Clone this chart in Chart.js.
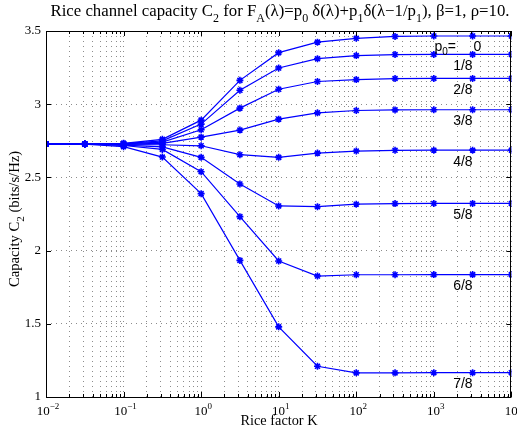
<!DOCTYPE html>
<html>
<head>
<meta charset="utf-8">
<title>Rice channel capacity</title>
<script src="https://cdn.jsdelivr.net/npm/chart.js@4.4.1/dist/chart.umd.min.js"></script>
<style>
    html, body { margin: 0; padding: 0; background: #fff; }
    canvas { display: block; }
</style>
</head>
<body>
<canvas id="chart" width="517" height="433"></canvas>
<script>
// Rice factor K (half-decade steps)
var kValues = [0.01, 0.03162, 0.1, 0.3162, 1, 3.162, 10, 31.62, 100, 316.2, 1000, 3162, 10000];

// Capacity C2 for each p0
var p0_0 = [2.728, 2.728, 2.733, 2.760, 2.891, 3.163, 3.352, 3.424, 3.450, 3.463, 3.466, 3.466, 3.466];
var p0_1 = [2.728, 2.728, 2.731, 2.750, 2.864, 3.095, 3.247, 3.311, 3.332, 3.339, 3.340, 3.340, 3.340];
var p0_2 = [2.728, 2.728, 2.729, 2.741, 2.825, 2.973, 3.102, 3.155, 3.168, 3.175, 3.176, 3.176, 3.176];
var p0_3 = [2.728, 2.728, 2.727, 2.732, 2.775, 2.823, 2.898, 2.941, 2.957, 2.961, 2.962, 2.962, 2.962];
var p0_4 = [2.728, 2.728, 2.724, 2.723, 2.716, 2.655, 2.637, 2.666, 2.680, 2.685, 2.686, 2.686, 2.686];
var p0_5 = [2.728, 2.728, 2.721, 2.709, 2.637, 2.455, 2.305, 2.300, 2.317, 2.321, 2.322, 2.322, 2.322];
var p0_6 = [2.728, 2.728, 2.718, 2.691, 2.539, 2.232, 1.929, 1.826, 1.835, 1.835, 1.836, 1.836, 1.836];
var p0_7 = [2.728, 2.727, 2.710, 2.639, 2.389, 1.933, 1.479, 1.210, 1.165, 1.165, 1.166, 1.166, 1.166];

var seriesValues = [p0_0, p0_1, p0_2, p0_3, p0_4, p0_5, p0_6, p0_7];
var seriesLabels = ["0", "1/8", "2/8", "3/8", "4/8", "5/8", "6/8", "7/8"];

// Axis ticks
var xDecades = [-2, -1, 0, 1, 2, 3, 4];
var yTicks = [1, 1.5, 2, 2.5, 3, 3.5];

var blue = "#0000ff";
var serif = "'Liberation Serif', 'Times New Roman', serif";
var sans = "'Liberation Sans', Arial, sans-serif";

// Draw text made of normal / subscript / superscript parts
function richText(ctx, parts, x, y, size, align) {
    var small = Math.round(size * 0.72);
    var widths = [];
    var total = 0;
    parts.forEach(function (p) {
        ctx.font = (p[1] ? small : size) + "px " + serif;
        var w = ctx.measureText(p[0]).width;
        widths.push(w);
        total += w;
    });
    var cx = x;
    if (align === "center") cx = x - total / 2;
    if (align === "right") cx = x - total;
    ctx.textAlign = "left";
    ctx.textBaseline = "alphabetic";
    parts.forEach(function (p, i) {
        ctx.font = (p[1] ? small : size) + "px " + serif;
        var dy = 0;
        if (p[1] === -1) dy = size * 0.33;
        if (p[1] === 1) dy = -size * 0.45;
        ctx.fillText(p[0], cx, y + dy);
        cx += widths[i];
    });
}

var decorations = {
    id: "decorations",
    afterDraw: function (chart) {
        var ctx = chart.ctx;
        var area = chart.chartArea;
        var xs = chart.scales.x;
        var ys = chart.scales.y;
        ctx.save();

        // box
        ctx.strokeStyle = "#000";
        ctx.lineWidth = 1;
        ctx.setLineDash([]);
        ctx.strokeRect(Math.round(area.left) + 0.5, Math.round(area.top) + 0.5,
            Math.round(area.right - area.left) - 1, Math.round(area.bottom - area.top));

        // inward ticks
        ctx.beginPath();
        xDecades.forEach(function (e, i) {
            for (var m = 1; m <= 9; m++) {
                if (i === xDecades.length - 1 && m > 1) break;
                var px = Math.round(xs.getPixelForValue(m * Math.pow(10, e))) + 0.5;
                var len = m === 1 ? 5 : 3;
                ctx.moveTo(px, area.bottom);
                ctx.lineTo(px, area.bottom - len);
                ctx.moveTo(px, area.top);
                ctx.lineTo(px, area.top + len);
            }
        });
        yTicks.forEach(function (v) {
            var py = Math.round(ys.getPixelForValue(v)) + 0.5;
            ctx.moveTo(area.left, py);
            ctx.lineTo(area.left + 5, py);
            ctx.moveTo(area.right, py);
            ctx.lineTo(area.right - 5, py);
        });
        ctx.stroke();

        ctx.fillStyle = "#000";

        // x tick labels 10^e
        xDecades.forEach(function (e) {
            var px = xs.getPixelForValue(Math.pow(10, e));
            richText(ctx, [["10", 0], [String(e).replace("-", "\u2212"), 1]], px + 2, 415, 13, "center");
        });

        // title
        richText(ctx, [
            ["Rice channel capacity C", 0], ["2", -1], [" for F", 0], ["A", -1],
            ["(\u03bb)=p", 0], ["0", -1], [" \u03b4(\u03bb)+p", 0], ["1", -1],
            ["\u03b4(\u03bb\u22121/p", 0], ["1", -1], ["), \u03b2=1, \u03c1=10.", 0]
        ], 280, 16, 16.8, "center");

        // x axis title
        richText(ctx, [["Rice factor K", 0]], 279, 425, 14.3, "center");

        // y axis title
        ctx.save();
        ctx.translate(19, 219);
        ctx.rotate(-Math.PI / 2);
        richText(ctx, [["Capacity C", 0], ["2", -1], [" (bits/s/Hz)", 0]], 0, 0, 14.6, "center");
        ctx.restore();

        // curve labels
        var lastX = xs.getPixelForValue(kValues[kValues.length - 1]);
        seriesValues.forEach(function (vals, i) {
            var py = ys.getPixelForValue(vals[vals.length - 1]) + 11.5;
            ctx.font = "14px " + sans;
            ctx.textBaseline = "middle";
            if (i === 0) {
                ctx.textAlign = "left";
                ctx.fillText("p", lastX - 77, py);
                var pw = ctx.measureText("p").width;
                ctx.font = "10px " + sans;
                ctx.fillText("0", lastX - 77 + pw, py + 5);
                var zw = ctx.measureText("0").width;
                ctx.font = "14px " + sans;
                ctx.fillText("=", lastX - 77 + pw + zw, py);
                ctx.textAlign = "center";
                ctx.fillText(seriesLabels[i], lastX - 34, py);
            } else {
                ctx.textAlign = "center";
                ctx.fillText(seriesLabels[i], lastX - 48.5, py);
            }
        });

        ctx.restore();
    }
};

var datasets = seriesValues.map(function (vals, i) {
    return {
        label: "p0 = " + seriesLabels[i],
        data: kValues.map(function (k, j) { return { x: k, y: vals[j] }; }),
        borderColor: blue,
        backgroundColor: blue,
        borderWidth: 1.2,
        pointStyle: "star",
        pointRadius: 3.5,
        pointBorderWidth: 1.6,
        pointBorderColor: blue,
        tension: 0
    };
});

var gridStyle = {
    color: "rgba(0,0,0,0.45)",
    lineWidth: 1,
    drawTicks: false
};

new Chart(document.getElementById("chart"), {
    type: "line",
    data: { datasets: datasets },
    plugins: [decorations],
    options: {
        responsive: false,
        devicePixelRatio: 1,
        animation: false,
        layout: { padding: { top: 31, right: 4, left: 0, bottom: 0 } },
        plugins: {
            legend: { display: false },
            title: { display: false },
            tooltip: { enabled: false }
        },
        scales: {
            x: {
                type: "logarithmic",
                min: 0.01,
                max: 10000,
                grid: gridStyle,
                border: { display: false, dash: [1, 4] },
                ticks: { display: false },
                afterBuildTicks: function (scale) {
                    var ticks = [];
                    xDecades.forEach(function (e, i) {
                        for (var m = 1; m <= 9; m++) {
                            if (i === xDecades.length - 1 && m > 1) break;
                            ticks.push({ value: m * Math.pow(10, e), major: m === 1 });
                        }
                    });
                    scale.ticks = ticks;
                },
                afterFit: function (scale) { scale.height = 36; }
            },
            y: {
                type: "linear",
                min: 1,
                max: 3.5,
                grid: gridStyle,
                border: { display: false, dash: [1, 4] },
                ticks: {
                    stepSize: 0.5,
                    padding: 5,
                    color: "#000",
                    font: { family: serif, size: 13 },
                    callback: function (v) { return String(v); }
                },
                afterFit: function (scale) { scale.width = 46; }
            }
        }
    }
});
</script>
</body>
</html>
